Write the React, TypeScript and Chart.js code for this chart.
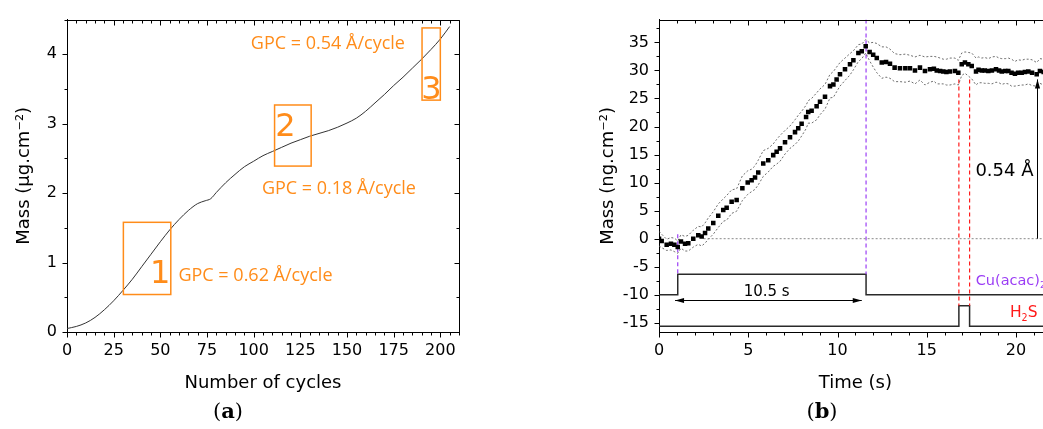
import React, { useEffect, useRef } from "react";
import { Chart, registerables } from "chart.js";

Chart.register(...registerables);

// ---------- (a) areal mass vs. number of ALD cycles ----------
const cycles = [
  0, 5, 10, 15, 20, 25, 30, 35, 40, 45, 50, 55, 60, 65, 70, 74, 77, 80, 85, 90, 95,
  100, 105, 110, 115, 120, 125, 130, 135, 140, 145, 150, 155, 160, 165, 170, 175,
  180, 185, 190, 195, 200, 205,
];
const massUg = [
  0.05, 0.08, 0.13, 0.21, 0.32, 0.45, 0.6, 0.76, 0.94, 1.12, 1.3, 1.47, 1.62, 1.75,
  1.85, 1.89, 1.92, 2.01, 2.15, 2.27, 2.38, 2.46, 2.54, 2.6, 2.66, 2.72, 2.77, 2.82,
  2.86, 2.9, 2.95, 3.01, 3.08, 3.18, 3.3, 3.42, 3.55, 3.67, 3.8, 3.93, 4.07, 4.22, 4.4,
];

// growth regimes (cycle range and mass range of each frame)
const regionNames = ["1", "2", "3"];
const regionCycleStart = [30.2, 111.2, 190.2];
const regionCycleEnd = [55.6, 130.8, 200.0];
const regionMassLow = [0.54, 2.39, 3.34];
const regionMassHigh = [1.58, 3.27, 4.38];
const gpcTexts = ["GPC = 0.62 Å/cycle", "GPC = 0.18 Å/cycle", "GPC = 0.54 Å/cycle"];

// ---------- (b) mass change during one ALD cycle ----------
const timeS = [
  0.0, 0.15, 0.43, 0.67, 0.86, 1.05, 1.23, 1.46, 1.64, 1.92,
  2.2, 2.39, 2.58, 2.76, 3.04, 3.32, 3.6, 3.79, 4.07, 4.35,
  4.67, 4.97, 5.19, 5.38, 5.56, 5.84, 6.12, 6.4, 6.59, 6.78,
  7.06, 7.34, 7.62, 7.8, 7.99, 8.24, 8.36, 8.55, 8.83, 9.02,
  9.3, 9.58, 9.77, 9.95, 10.14, 10.42, 10.7, 10.89, 11.17, 11.36,
  11.58, 11.8, 12.0, 12.2, 12.48, 12.72, 12.94, 13.2, 13.5, 13.8,
  14.06, 14.34, 14.62, 14.9, 15.18, 15.4, 15.56, 15.75, 15.93, 16.1,
  16.3, 16.58, 16.77, 16.96, 17.14, 17.33, 17.52, 17.76, 17.9, 18.08,
  18.25, 18.45, 18.65, 18.88, 19.05, 19.2, 19.4, 19.57, 19.75, 19.94,
  20.12, 20.32, 20.5, 20.69, 20.9, 21.16, 21.34, 21.55, 21.8,
];
const massNg = [
  0.0, -0.4, -1.1, -0.9, -1.1, -1.5, -0.5, -0.9, -0.8, 0.0,
  0.6, 0.4, 1.0, 1.8, 2.8, 4.1, 5.1, 5.5, 6.6, 6.9,
  9.0, 10.0, 10.4, 10.9, 11.8, 13.4, 14.0, 14.9, 15.5, 16.1,
  17.2, 18.1, 19.0, 19.7, 20.5, 21.7, 22.6, 22.8, 23.6, 24.4,
  25.3, 27.2, 27.5, 28.4, 29.3, 30.2, 31.1, 31.8, 33.1, 33.4,
  34.3, 33.3, 32.8, 32.2, 31.4, 31.5, 31.2, 30.5, 30.4, 30.4,
  30.4, 30.0, 30.5, 29.9, 30.2, 30.3, 30.0, 29.9, 29.8, 29.7,
  29.8, 29.9, 29.6, 31.1, 31.4, 31.1, 30.8, 29.8, 30.1, 30.0,
  30.0, 29.9, 30.0, 30.2, 30.0, 29.8, 29.9, 29.9, 29.6, 29.4,
  29.6, 29.6, 29.7, 29.8, 29.6, 29.3, 29.9, 29.7, 29.6,
];
// half-width of the dashed uncertainty band
const spreadNg = [
  1.3, 1.2, 1.0, 1.1, 1.2, 1.1, 1.2, 1.3, 1.4, 1.5,
  1.6, 1.7, 1.8, 1.9, 2.0, 2.1, 2.0, 2.2, 2.1, 2.0,
  2.2, 2.1, 2.0, 2.1, 2.2, 2.3, 2.1, 2.0, 2.2, 2.3,
  2.1, 2.0, 2.2, 2.3, 2.2, 2.1, 2.0, 2.2, 2.4, 2.3,
  2.2, 2.1, 2.3, 2.2, 2.1, 2.0, 1.9, 1.7, 1.5, 1.3,
  1.2, 1.6, 2.2, 2.6, 2.8, 2.7, 2.6, 2.5, 2.4, 2.5,
  2.3, 2.4, 2.2, 2.5, 2.3, 2.2, 2.4, 2.3, 2.2, 2.3,
  2.4, 2.3, 2.2, 2.0, 1.9, 2.1, 2.3, 2.4, 2.3, 2.2,
  2.3, 2.2, 2.4, 2.3, 2.2, 2.3, 2.2, 2.3, 2.4, 2.2,
  2.3, 2.2, 2.3, 2.2, 2.3, 2.1, 2.2, 2.3, 2.2,
];

// precursor pulse sequence (drawn as step traces)
const cuTime = [0, 1.05, 1.05, 11.6, 11.6, 22];
const cuLevel = [-10, -10, -6.35, -6.35, -10, -10];
const h2sTime = [0, 16.8, 16.8, 17.4, 17.4, 22];
const h2sLevel = [-15.6, -15.6, -11.95, -11.95, -15.6, -15.6];
const cuEdges = [1.05, 11.6];
const h2sEdges = [16.8, 17.4];
const cuPulseSeconds = 10.5;
const cycleThickness = "0.54 Å";

const ORANGE = "#FF8C1A";
const PURPLE = "#9B3DF5";
const RED = "#FF1A1A";
const SANS = "'DejaVu Sans', sans-serif";

const pts = (xs: number[], ys: number[]) => xs.map((x, i) => ({ x, y: ys[i] }));

// Frame with inward mirror ticks on top/right and outward ticks on bottom/left
function frameTicks(xMinor: number, yMinor: number) {
  return {
    id: "frameTicks",
    afterDraw(chart: any) {
      const { ctx, chartArea: a } = chart;
      const xs = chart.scales.x;
      const ys = chart.scales.y;
      const al = (v: number) => Math.round(v) + 0.5;
      const minors = (min: number, max: number, step: number, majors: number[]) => {
        const out: number[] = [];
        for (let k = Math.ceil(min / step - 1e-9); k * step <= max + 1e-9; k++) {
          const v = k * step;
          if (!majors.some((m) => Math.abs(m - v) < 1e-6)) out.push(v);
        }
        return out;
      };
      const mx = xs.ticks.map((t: any) => t.value);
      const my = ys.ticks.map((t: any) => t.value);
      ctx.save();
      ctx.strokeStyle = "#000";
      ctx.lineWidth = 1;
      ctx.beginPath();
      ctx.moveTo(al(a.left), al(a.top));
      ctx.lineTo(al(a.right), al(a.top));
      ctx.lineTo(al(a.right), al(a.bottom));
      const xTick = (v: number, len: number) => {
        const p = al(xs.getPixelForValue(v));
        ctx.moveTo(p, al(a.bottom));
        ctx.lineTo(p, al(a.bottom) + len);
        ctx.moveTo(p, al(a.top));
        ctx.lineTo(p, al(a.top) + len);
      };
      const yTick = (v: number, len: number) => {
        const p = al(ys.getPixelForValue(v));
        ctx.moveTo(al(a.left), p);
        ctx.lineTo(al(a.left) - len, p);
        ctx.moveTo(al(a.right), p);
        ctx.lineTo(al(a.right) - len, p);
      };
      mx.forEach((v: number) => xTick(v, 5));
      minors(xs.min, xs.max, xMinor, mx).forEach((v) => xTick(v, 3));
      my.forEach((v: number) => yTick(v, 5));
      minors(ys.min, ys.max, yMinor, my).forEach((v) => yTick(v, 3));
      ctx.stroke();
      ctx.restore();
    },
  };
}

function axisX(min: number, max: number, step: number, title: string, height: number) {
  return {
    type: "linear",
    min,
    max,
    ticks: {
      stepSize: step,
      includeBounds: false,
      autoSkip: false,
      maxRotation: 0,
      padding: 9,
      color: "#000",
      font: { family: SANS, size: 16 },
    },
    grid: { display: false, drawTicks: false },
    border: { display: true, color: "#000", width: 1 },
    title: {
      display: true,
      text: title,
      color: "#000",
      font: { family: SANS, size: 18 },
      padding: { top: 0, bottom: 35 },
    },
    afterFit: (s: any) => {
      s.height = height;
    },
  };
}

function axisY(min: number, max: number, step: number, title: string, width: number, titlePad: number) {
  return {
    type: "linear",
    min,
    max,
    ticks: {
      stepSize: step,
      includeBounds: false,
      autoSkip: false,
      padding: 10,
      color: "#000",
      font: { family: SANS, size: 16 },
    },
    grid: { display: false, drawTicks: false },
    border: { display: true, color: "#000", width: 1 },
    title: {
      display: true,
      text: title,
      color: "#000",
      font: { family: SANS, size: 18 },
      padding: { top: titlePad, bottom: 0 },
    },
    afterFit: (s: any) => {
      s.width = width;
    },
  };
}

function arrowHead(ctx: CanvasRenderingContext2D, x: number, y: number, dx: number, dy: number) {
  const len = 9;
  const half = 2.6;
  const bx = x - dx * len;
  const by = y - dy * len;
  ctx.beginPath();
  ctx.moveTo(x, y);
  ctx.lineTo(bx - dy * half, by + dx * half);
  ctx.lineTo(bx + dy * half, by - dx * half);
  ctx.closePath();
  ctx.fill();
}

// text with a subscript part
function drawSub(ctx: CanvasRenderingContext2D, parts: [string, boolean][], x: number, y: number, size: number) {
  let cx = x;
  parts.forEach(([t, sub]) => {
    const s = sub ? size * 0.62 : size;
    ctx.font = `${s}px ${SANS}`;
    ctx.fillText(t, cx, sub ? y + size * 0.22 : y);
    cx += ctx.measureText(t).width;
  });
}

export default function App() {
  const refA = useRef<HTMLCanvasElement>(null);
  const refB = useRef<HTMLCanvasElement>(null);

  useEffect(() => {
    const regionsPlugin = {
      id: "regions",
      afterDatasetsDraw(chart: any) {
        const { ctx } = chart;
        const xs = chart.scales.x;
        const ys = chart.scales.y;
        ctx.save();
        ctx.strokeStyle = ORANGE;
        ctx.fillStyle = ORANGE;
        ctx.lineWidth = 1.5;
        regionNames.forEach((_, i) => {
          const x0 = xs.getPixelForValue(regionCycleStart[i]);
          const x1 = xs.getPixelForValue(regionCycleEnd[i]);
          const y0 = ys.getPixelForValue(regionMassHigh[i]);
          const y1 = ys.getPixelForValue(regionMassLow[i]);
          ctx.strokeRect(x0, y0, x1 - x0, y1 - y0);
        });
        // region numbers
        const numX = [49.9, 117.0, 195.2];
        const numY = [0.7, 2.82, 3.36];
        ctx.font = `32px ${SANS}`;
        ctx.textAlign = "center";
        ctx.textBaseline = "alphabetic";
        regionNames.forEach((n, i) => {
          ctx.fillText(n, xs.getPixelForValue(numX[i]), ys.getPixelForValue(numY[i]));
        });
        // growth-per-cycle labels
        const gX = [59.7, 104.4, 98.5];
        const gY = [0.733, 1.986, 4.08];
        ctx.font = "18px 'Open Sans', sans-serif";
        ctx.textAlign = "left";
        gpcTexts.forEach((t, i) => {
          ctx.fillText(t, xs.getPixelForValue(gX[i]), ys.getPixelForValue(gY[i]));
        });
        ctx.restore();
      },
    };

    const chartA = new Chart(refA.current as HTMLCanvasElement, {
      type: "scatter",
      data: {
        datasets: [
          {
            data: pts(cycles, massUg),
            showLine: true,
            borderColor: "#333",
            borderWidth: 1,
            pointRadius: 0,
            cubicInterpolationMode: "monotone",
          },
        ],
      },
      options: {
        responsive: false,
        animation: false,
        layout: { padding: { top: 17, right: 61, left: 0, bottom: 0 } },
        plugins: { legend: { display: false }, tooltip: { enabled: false } },
        scales: {
          x: axisX(0, 210, 25, "Number of cycles", 97),
          y: axisY(0, 4.5, 1, "Mass (µg.cm⁻²)", 67, 14),
        },
      } as any,
      plugins: [frameTicks(5, 0.5), regionsPlugin],
    });

    const cyclePlugin = {
      id: "cycleNotes",
      afterDatasetsDraw(chart: any) {
        const { ctx } = chart;
        const xs = chart.scales.x;
        const ys = chart.scales.y;
        const X = (v: number) => xs.getPixelForValue(v);
        const Y = (v: number) => ys.getPixelForValue(v);
        ctx.save();
        ctx.strokeStyle = "#000";
        ctx.fillStyle = "#000";
        ctx.lineWidth = 1;
        // pulse-length double arrow
        const ay = Math.round(Y(-10.9)) + 0.5;
        ctx.beginPath();
        ctx.moveTo(X(0.9), ay);
        ctx.lineTo(X(11.36), ay);
        ctx.stroke();
        arrowHead(ctx, X(0.9), ay, -1, 0);
        arrowHead(ctx, X(11.36), ay, 1, 0);
        ctx.font = `15px ${SANS}`;
        ctx.textAlign = "center";
        ctx.textBaseline = "alphabetic";
        ctx.fillText(`${cuPulseSeconds} s`, X(6.03), Y(-10.3));
        // mass gain per cycle arrow
        const vx = Math.round(X(21.18)) + 0.5;
        ctx.beginPath();
        ctx.moveTo(vx, Y(0));
        ctx.lineTo(vx, Y(28.4));
        ctx.stroke();
        arrowHead(ctx, vx, Y(28.4), 0, -1);
        ctx.font = `18px ${SANS}`;
        ctx.textAlign = "right";
        ctx.fillText(cycleThickness, X(20.98), Y(11.24));
        // precursor labels
        ctx.textAlign = "left";
        ctx.fillStyle = PURPLE;
        drawSub(ctx, [["Cu(acac)", false], ["2", true]], X(17.74), Y(-8.17), 14.5);
        ctx.fillStyle = RED;
        drawSub(ctx, [["H", false], ["2", true], ["S", false]], X(19.66), Y(-14.05), 15.5);
        ctx.restore();
      },
    };

    const upper = massNg.map((m, i) => m + spreadNg[i]);
    const lower = massNg.map((m, i) => m - spreadNg[i]);
    const dashed = (xs: number[], ys: number[], color: string) => ({
      data: pts(xs, ys),
      showLine: true,
      borderColor: color,
      borderWidth: 1.2,
      borderDash: [4, 3],
      pointRadius: 0,
    });

    const chartB = new Chart(refB.current as HTMLCanvasElement, {
      type: "scatter",
      data: {
        datasets: [
          {
            data: pts(timeS, massNg),
            showLine: false,
            pointStyle: "rect",
            pointRadius: 3.2,
            pointBorderWidth: 0,
            backgroundColor: "#000",
            borderColor: "#000",
          },
          {
            data: pts(timeS, upper),
            showLine: true,
            borderColor: "#5e5e5e",
            borderWidth: 0.9,
            borderDash: [2, 2],
            pointRadius: 0,
          },
          {
            data: pts(timeS, lower),
            showLine: true,
            borderColor: "#5e5e5e",
            borderWidth: 0.9,
            borderDash: [2, 2],
            pointRadius: 0,
          },
          {
            data: pts([2.5, 22], [0, 0]),
            showLine: true,
            borderColor: "#8a8a8a",
            borderWidth: 1,
            borderDash: [2, 2],
            pointRadius: 0,
          },
          dashed([cuEdges[0], cuEdges[0]], [0.8, -6.35], PURPLE),
          dashed([cuEdges[1], cuEdges[1]], [39.06, -6.35], PURPLE),
          dashed([h2sEdges[0], h2sEdges[0]], [28.4, -11.95], RED),
          dashed([h2sEdges[1], h2sEdges[1]], [28.4, -11.95], RED),
          {
            data: pts(cuTime, cuLevel),
            showLine: true,
            borderColor: "#2a2a2a",
            borderWidth: 1.5,
            pointRadius: 0,
          },
          {
            data: pts(h2sTime, h2sLevel),
            showLine: true,
            borderColor: "#2a2a2a",
            borderWidth: 1.5,
            pointRadius: 0,
          },
        ],
      },
      options: {
        responsive: false,
        animation: false,
        layout: { padding: { top: 17, right: 28.3, left: 0, bottom: 0 } },
        plugins: { legend: { display: false }, tooltip: { enabled: false } },
        scales: {
          x: axisX(0, 22, 5, "Time (s)", 96.7),
          y: axisY(-16.69, 39.06, 5, "Mass (ng.cm⁻²)", 79, 18),
        },
      } as any,
      plugins: [frameTicks(1, 2.5), cyclePlugin],
    });

    return () => {
      chartA.destroy();
      chartB.destroy();
    };
  }, []);

  const panelLabel = (left: number): React.CSSProperties => ({
    position: "absolute",
    left,
    top: 398,
    width: 60,
    textAlign: "center",
    fontFamily: "'DejaVu Serif', serif",
    fontSize: 21,
    lineHeight: "26px",
    color: "#000",
  });

  return (
    <div
      style={{
        position: "fixed",
        left: 0,
        top: 0,
        width: 1043,
        height: 429,
        overflow: "hidden",
        background: "#fff",
      }}
    >
      <canvas
        ref={refA}
        width={520}
        height={429}
        style={{ position: "absolute", left: 0, top: 0, width: 520, height: 429 }}
      />
      <canvas
        ref={refB}
        width={500}
        height={429}
        style={{ position: "absolute", left: 580, top: 0, width: 500, height: 429 }}
      />
      <div style={panelLabel(198)}>
        (<b>a</b>)
      </div>
      <div style={panelLabel(792)}>
        (<b>b</b>)
      </div>
    </div>
  );
}
